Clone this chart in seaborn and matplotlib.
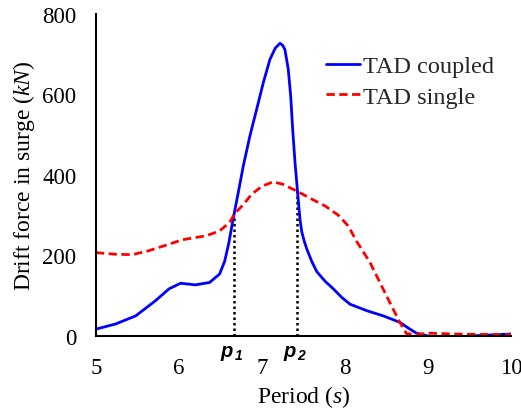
import matplotlib
matplotlib.use("Agg")
import matplotlib.pyplot as plt
import seaborn as sns
import pandas as pd

# Surge drift force vs wave period
coupled_period = [5.0, 5.24, 5.48, 5.72, 5.88, 6.02, 6.2, 6.37, 6.49, 6.55, 6.6, 6.66, 6.72,
                  6.775, 6.855, 6.936, 7.016, 7.096, 7.16, 7.217, 7.25, 7.277, 7.317, 7.346,
                  7.37, 7.398, 7.426, 7.458, 7.48, 7.51, 7.54, 7.6, 7.66, 7.76, 7.86, 7.96,
                  8.06, 8.26, 8.46, 8.66, 8.76, 8.86, 9.06, 9.35, 9.59, 10.0]
coupled_force = [17, 30, 50, 88, 117, 131, 127, 133, 154, 185, 230, 298, 362,
                 422, 497, 563, 629, 687, 715, 727, 722, 711, 662, 596,
                 513, 431, 364, 290, 258, 235, 216, 185, 160, 136, 117, 96,
                 79, 63, 50, 34, 20, 7, -3, -3, 1, 5]

single_period = [5.0, 5.24, 5.44, 5.64, 5.88, 6.04, 6.33, 6.49, 6.61, 6.675, 6.77, 6.876,
                 7.0, 7.136, 7.25, 7.437, 7.6, 7.76, 7.92, 8.04, 8.14, 8.3, 8.42, 8.54,
                 8.66, 8.74, 8.85, 9.02, 9.3, 9.6, 10.0]
single_force = [207, 203, 202, 212, 228, 239, 249, 261, 282, 305, 325, 352,
                372, 383, 377, 358, 340, 323, 300, 273, 235, 183, 133, 83,
                34, 6, 4, 7, 5, 4, 3]

p_marks = [6.66, 7.42]
p_values = [298, 363]
p_names = ["1", "2"]

x_ticks = [5, 6, 7, 8, 9, 10]
y_ticks = [0, 200, 400, 600, 800]

sns.set_theme(style="white")
plt.rcParams["font.family"] = ["Liberation Serif", "DejaVu Serif"]
plt.rcParams["mathtext.fontset"] = "custom"
plt.rcParams["mathtext.rm"] = "Liberation Serif"
plt.rcParams["mathtext.it"] = "Liberation Serif:italic"

fig = plt.figure(figsize=(5.21, 4.14), dpi=100)
ax = fig.add_axes([0.184, 0.186, 0.797, 0.778])

df_c = pd.DataFrame({"Period": coupled_period, "Force": coupled_force})
df_s = pd.DataFrame({"Period": single_period, "Force": single_force})

sns.lineplot(data=df_c, x="Period", y="Force", ax=ax, color="#0000ff", lw=2.0,
             label="TAD coupled", sort=False)
sns.lineplot(data=df_s, x="Period", y="Force", ax=ax, color="#ff0000", lw=2.0,
             linestyle=(0, (3, 1.6)), label="TAD single", sort=False)

for xp, yp in zip(p_marks, p_values):
    ax.plot([xp, xp], [0, yp], color="black", lw=1.8, linestyle=(0, (1, 1.2)), zorder=1)

ax.set_xlim(5, 10)
ax.set_ylim(0, 800)
ax.set_xticks(x_ticks)
ax.set_yticks(y_ticks)
ax.tick_params(axis="both", direction="in", length=5, width=1.3, labelsize=16.5,
               colors="black")
ax.tick_params(axis="x", pad=15)
ax.tick_params(axis="y", pad=14)
for side in ["top", "right"]:
    ax.spines[side].set_visible(False)
for side in ["left", "bottom"]:
    ax.spines[side].set_color("black")
    ax.spines[side].set_linewidth(1.5)

ax.set_xlabel("Period ($s$)", fontsize=17, color="black", labelpad=4)
ax.set_ylabel("Drift force in surge ($kN$)", fontsize=17, color="black", labelpad=4)

for xp, nm in zip(p_marks, p_names):
    ax.annotate("p", xy=(xp, 0), xycoords="data", xytext=(-5, -14.4),
                textcoords="offset points", ha="center", va="baseline",
                fontsize=14.5, fontstyle="italic", fontweight="bold", color="black",
                family=["Liberation Sans", "DejaVu Sans"], annotation_clip=False)
    ax.annotate(nm, xy=(xp, 0), xycoords="data", xytext=(3.2, -16.6),
                textcoords="offset points", ha="center", va="baseline",
                fontsize=10, fontstyle="italic", fontweight="bold", color="black",
                family=["Liberation Sans", "DejaVu Sans"], annotation_clip=False)

leg = ax.legend(loc="center left", bbox_to_anchor=(0.525, 0.79), frameon=False,
                borderpad=0, fontsize=17.5, handlelength=1.4, handletextpad=0.12,
                labelspacing=0.35)

fig.savefig("out.png", dpi=100)
